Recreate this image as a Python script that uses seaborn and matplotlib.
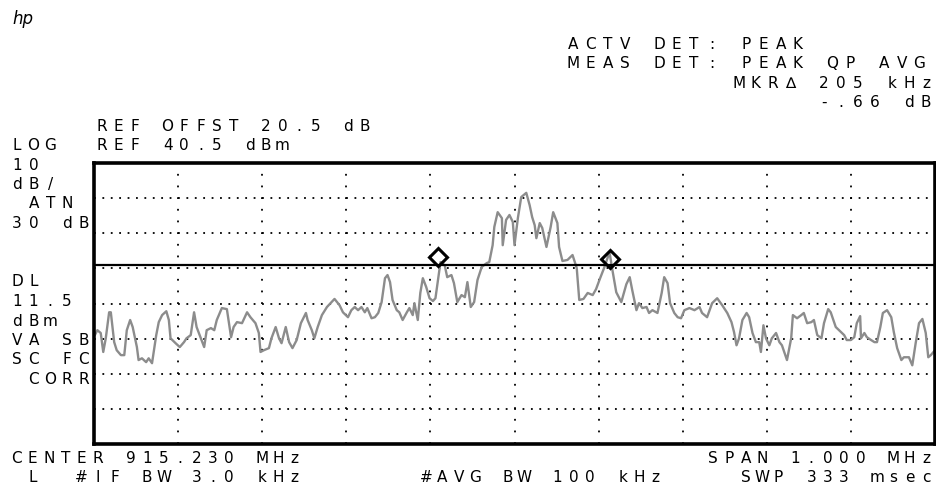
import matplotlib
matplotlib.use("Agg")
import matplotlib.pyplot as plt
import numpy as np
import pandas as pd
import seaborn as sns

# ---- data (offset from center, kHz / level, dBm) ----
freq_khz = [-499, -496, -492, -489, -486, -482, -480, -476, -473, -468, -464, -461, -457, -454,
            -449, -447, -443, -438, -435, -431, -426, -423, -419, -414, -411, -409, -403, -398,
            -393, -390, -385, -381, -378, -373, -369, -366, -361, -357, -354, -348, -342, -337,
            -334, -330, -324, -318, -314, -308, -304, -302, -298, -292, -289, -284, -280, -277,
            -272, -268, -264, -259, -254, -248,
            -246, -241, -238, -234, -229, -223, -214, -208, -204, -198, -194, -190, -186, -182,
            -178, -175, -170, -166, -162, -158, -154, -151, -148, -145, -140, -137, -133, -128,
            -125, -121, -119, -115, -112, -109, -105, -101, -97, -94, -91, -88, -83, -80, -75,
            -72, -68, -63, -59, -56, -52, -48, -44, -39, -33, -30,
            -26, -24, -20, -15, -14, -10, -6, -2, 0, 4, 8, 14, 18, 21, 24, 26, 30, 33, 38, 43,
            46, 51, 53, 57, 63, 69, 74, 77, 82, 87, 93, 97, 101, 107, 113, 116, 121, 127, 133,
            137, 140, 145, 148, 152, 157, 160, 164, 170, 175, 178, 182, 185, 190, 194, 198, 202,
            208, 214, 220, 223, 229, 235, 241, 247,
            253, 258, 261, 264, 267, 271, 276, 279, 283, 287, 291, 293, 296, 299, 303, 306, 311,
            315, 318, 324, 329, 331, 336, 341, 344, 348, 353, 356, 360, 365, 368, 373, 376, 382,
            388, 392, 395, 400, 404, 407, 411, 412, 416, 419, 424, 428, 431, 435, 438, 443, 448,
            451, 455, 460, 463, 469, 473, 477, 481, 485, 489, 492, 495, 500]
level_dbm = [-8.5, -7.1, -7.9, -13.3, -9.4, -2.0, -2.0, -10.5, -12.8, -14.2, -14.2, -7.1, -4.2, -6.2,
             -11.9, -15.6, -15.1, -16.2, -15.1, -16.5, -8.5, -4.8, -2.8, -1.7, -4.2, -9.4, -10.8, -11.9,
             -10.5, -9.4, -8.5, -2.0, -6.2, -9.4, -11.9, -7.1, -6.5, -7.1, -4.2, -0.8, -1.1, -9.1,
             -6.2, -4.8, -5.1, -2.0, -3.4, -5.1, -7.9, -13.3, -12.8, -12.2, -9.4, -6.2, -9.4, -10.8,
             -6.2, -10.5, -12.2, -9.9, -5.1, -2.2,
             -4.2, -7.1, -9.4, -6.2, -2.8, -0.5, 1.8, 0.0, -2.0, -3.4, -1.4, -0.5, -1.4, -0.5,
             -2.0, -0.8, -3.7, -3.4, -2.2, 0.9, 7.7, 8.6, 6.6, 1.5, -1.4, -2.0, -4.2, -2.0,
             -0.8, -2.8, 0.6, -4.2, 3.5, 7.7, 5.2, 2.0, 1.2, 2.0, 7.2, 12.3, 11.4, 8.0, 8.6,
             6.3, 0.9, 2.9, 2.3, 6.6, -0.5, 0.9, 7.2, 10.9, 12.0, 12.3,
             17.1, 22.3, 26.5, 24.8, 17.1, 24.3, 25.7, 23.7, 17.1, 24.8, 30.8, 32.0, 28.5, 25.1, 22.8, 19.1, 23.4, 22.0, 16.6, 22.3,
             26.5, 23.4, 16.6, 12.6, 12.9, 14.3, 10.6, 1.5, 1.8, 3.5, 2.9, 4.6, 7.2, 10.9, 15.1, 10.6, 3.7, 0.9, 6.0,
             8.0, 4.3, -1.4, 0.6, -0.8, -0.5, -2.2, -1.4, -2.2, 3.5, 8.0, 6.3, 0.6, -2.2, -3.4, -3.7, -1.4,
             -0.8, -1.4, -0.5, -2.2, -3.4, 0.6, 2.0, 0.0,
             -2.2, -4.8, -7.6, -11.4, -9.4, -4.2, -2.2, -3.4, -7.9, -10.5, -10.5, -13.3, -5.7, -9.4, -11.4, -9.4, -7.9,
             -10.5, -11.4, -15.6, -9.4, -2.8, -3.7, -2.8, -2.2, -5.1, -4.8, -4.2, -8.5, -9.4, -5.1, -1.1, -2.0, -6.2,
             -7.6, -8.5, -9.9, -9.9, -9.1, -5.1, -3.1, -9.4, -7.9, -9.1, -9.9, -10.5, -10.5, -6.2, -2.2, -1.4, -3.4,
             -7.6, -12.2, -15.6, -14.8, -14.8, -17.1, -10.8, -5.1, -3.9, -7.9, -14.8, -14.2, -12.8]
marker_khz = [-91, 114]
marker_dbm = [13.8, 13.1]
ref_level_dbm = 40.5
display_line_dbm = 11.5
db_per_div = 10
n_ydiv = 8
span_khz = 1000
n_xdiv = 10

header_left = [("REF OFFST 20.5 dB", 96, 131), ("REF 40.5 dBm", 96, 150)]
top_right_left = [("ACTV DET: PEAK", 567, 49), ("MEAS DET: PEAK QP AVG", 567, 68.5)]
top_right_right = [("MKR\u2206 205 kHz", 932, 87.5), ("-.66 dB", 932, 107)]
side_labels = [("LOG", 150), ("10", 169.5), ("dB/", 189), (" ATN", 208.5), ("30 dB", 228),
               ("DL", 286.5), ("11.5", 306), ("dBm", 325.5), ("VA SB", 345), ("SC FC", 364.5),
               (" CORR", 384)]
bottom_left = [("CENTER 915.230 MHz", 10, 463), (" L  #IF BW 3.0 kHz       #AVG BW 100 kHz", 10, 482)]
bottom_right = [("SPAN 1.000 MHz", 932, 463), ("SWP 333 msec", 932, 482)]

# ---- style ----
sns.set_theme(style="white")
plt.rcParams['font.family'] = ['DejaVu Sans']
plt.rcParams['lines.scale_dashes'] = False

W, H = 936, 491
fig = plt.figure(figsize=(W / 100, H / 100), dpi=100)
fig.patch.set_facecolor("white")
ax = fig.add_axes([94 / W, 47 / H, 841 / W, 281 / H])

df = pd.DataFrame({"freq": freq_khz, "level": level_dbm})
sns.lineplot(data=df, x="freq", y="level", ax=ax, color="#8c8c8c", linewidth=1.7,
             estimator=None, sort=False)

ax.axhline(display_line_dbm, color="black", linewidth=1.6, zorder=4)
ax.plot(marker_khz, marker_dbm, linestyle="none", marker="D", markersize=9,
        markerfacecolor="none", markeredgecolor="black", markeredgewidth=2.2, zorder=5)

ax.set_xlim(-span_khz / 2, span_khz / 2)
ax.set_ylim(ref_level_dbm - n_ydiv * db_per_div, ref_level_dbm)
ax.set_xticks(np.linspace(-span_khz / 2, span_khz / 2, n_xdiv + 1))
ax.set_yticks(np.linspace(ref_level_dbm - n_ydiv * db_per_div, ref_level_dbm, n_ydiv + 1))
ax.tick_params(length=0, labelbottom=False, labelleft=False)
ax.set_xlabel("")
ax.set_ylabel("")
ax.grid(axis="x", color="black", linestyle=(0, (1.3, 7.1)), linewidth=1.3)
ax.grid(axis="y", color="black", linestyle=(0, (1.3, 4.75)), linewidth=1.3)
for s in ax.spines.values():
    s.set_color("black")
    s.set_linewidth(2.6)
ax.set_facecolor("white")

# ---- screen annotation text (HP character grid) ----
GW = 12.0      # glyph width in px
FS = 11.0


def hp_text(s, x, y, align="left", cw=16.5):
    n = len(s)
    if align == "right":
        x = x - GW - (n - 1) * cw
    for i, ch in enumerate(s):
        if ch == " ":
            continue
        fig.text((x + i * cw + GW / 2) / W, 1 - y / H, ch, ha="center", va="baseline",
                 fontsize=FS, color="black", family=["DejaVu Sans"])


for s, x, y in header_left + bottom_left:
    hp_text(s, x, y, cw=16.4)
for s, x, y in top_right_left:
    hp_text(s, x, y, cw=17.3)
for s, x, y in top_right_right:
    hp_text(s, x, y, align="right", cw=17.0)
for s, x, y in bottom_right:
    hp_text(s, x, y, align="right", cw=16.4)
for s, y in side_labels:
    hp_text(s, 11, y, cw=16.6)

fig.text(12 / W, 1 - 24 / H, "hp", fontsize=12, fontstyle="italic",
         color="black", ha="left", va="baseline")

fig.savefig("out.png", dpi=100, facecolor="white")
